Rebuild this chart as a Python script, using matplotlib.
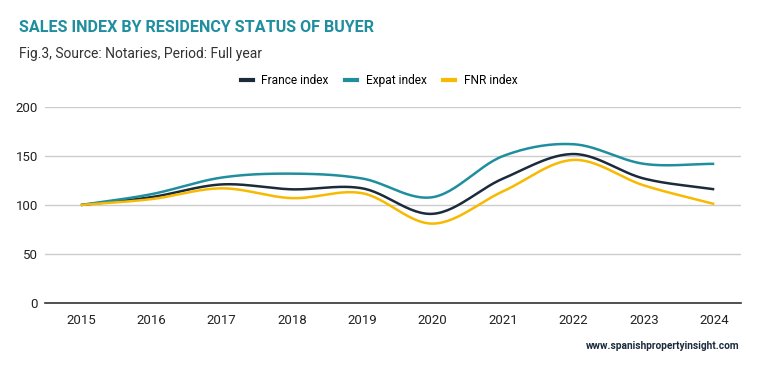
import matplotlib
matplotlib.use('Agg')
import matplotlib.pyplot as plt
import numpy as np

plt.rcParams['font.family'] = ['Roboto', 'DejaVu Sans']

years = [2015, 2016, 2017, 2018, 2019, 2020, 2021, 2022, 2023, 2024]
france = [100, 108, 121, 116, 117, 91, 127, 152, 127, 116]
expat = [100, 111, 128, 132, 127, 108, 150, 162, 142, 142]
fnr = [100, 106, 117, 107, 112, 81, 114, 146, 120, 101]

names = ['France index', 'Expat index', 'FNR index']
colors = ['#1b2b3c', '#1f8e9e', '#f7ba00']


def smooth(x, y, n=30):
    # catmull-rom spline through the points, for display only
    x = np.asarray(x, float)
    y = np.asarray(y, float)
    px = np.concatenate([[2 * x[0] - x[1]], x, [2 * x[-1] - x[-2]]])
    py = np.concatenate([[2 * y[0] - y[1]], y, [2 * y[-1] - y[-2]]])
    xs, ys = [], []
    t = np.linspace(0, 1, n)
    for i in range(1, len(px) - 2):
        for arr, out in ((px, xs), (py, ys)):
            p0, p1, p2, p3 = arr[i - 1], arr[i], arr[i + 1], arr[i + 2]
            out.extend(0.5 * (2 * p1 + (-p0 + p2) * t
                              + (2 * p0 - 5 * p1 + 4 * p2 - p3) * t ** 2
                              + (-p0 + 3 * p1 - 3 * p2 + p3) * t ** 3))
    return xs, ys


fig = plt.figure(figsize=(7.59, 3.71), dpi=100)
ax = fig.add_axes([45 / 759, 1 - 303 / 371, 696 / 759, 196 / 371])

for series, name, c in zip([france, expat, fnr], names, colors):
    sx, sy = smooth(years, series)
    ax.plot(sx, sy, color=c, lw=1.8, label=name, solid_capstyle='butt')

ax.set_xlim(2014.49, 2024.38)
ax.set_ylim(0, 200)
ax.set_yticks([0, 50, 100, 150, 200])
ax.set_xticks(years)
ax.grid(axis='y', color='#cccccc', lw=1)
ax.set_axisbelow(True)
for s in ['top', 'right', 'left']:
    ax.spines[s].set_visible(False)
ax.spines['bottom'].set_color('#333333')
ax.spines['bottom'].set_linewidth(1.2)
ax.tick_params(axis='both', length=0, labelsize=9.5, colors='#222222')
ax.tick_params(axis='x', pad=8)
ax.tick_params(axis='y', pad=5)

fig.text(19 / 759, 1 - 28 / 371, 'SALES INDEX BY RESIDENCY STATUS OF BUYER',
         fontsize=11.6, fontweight='bold', color='#1f8e9e', va='center')
fig.text(19 / 759, 1 - 54 / 371, 'Fig.3, Source: Notaries, Period: Full year',
         fontsize=10, color='#333333', va='center')

handles = [plt.Line2D([], [], color=c, lw=3) for c in colors]
fig.legend(handles, names, loc='center', bbox_to_anchor=(379 / 759, 1 - 80.5 / 371),
           ncol=3, frameon=False, fontsize=8.6, handlelength=1.0,
           columnspacing=1.35, handletextpad=0.75)

fig.text(739 / 759, 1 - 346 / 371, 'www.spanishpropertyinsight.com',
         fontsize=7.3, color='#1b2b3c', ha='right', va='center', fontweight='bold')

fig.savefig('out.png', dpi=100)
